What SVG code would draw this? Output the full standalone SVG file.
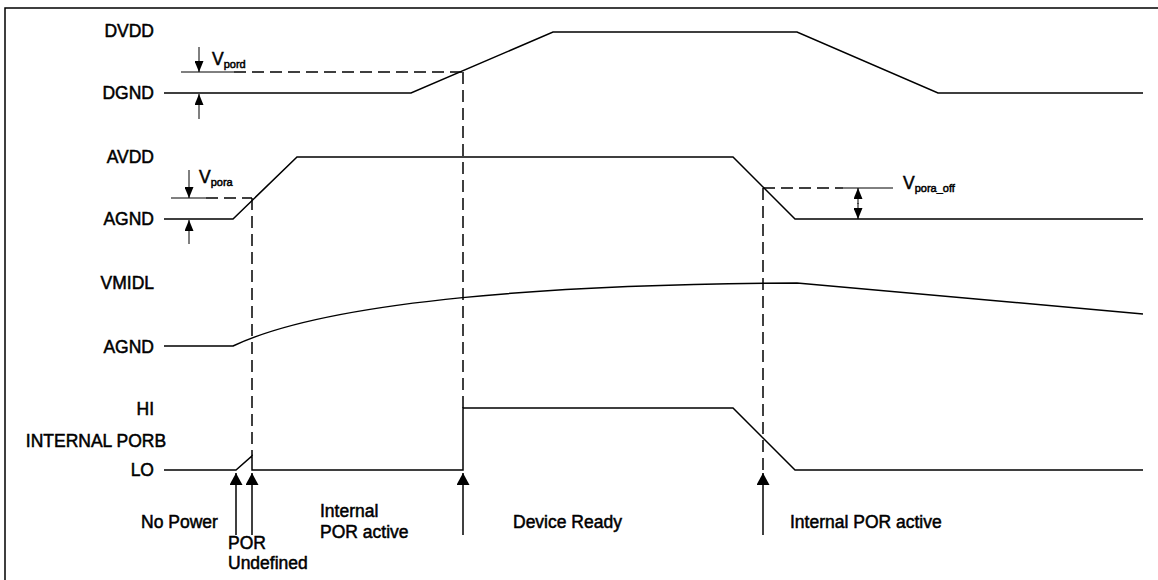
<svg xmlns="http://www.w3.org/2000/svg" width="1158" height="580" viewBox="0 0 1158 580">
<defs>
<style>
.t{font-family:"Liberation Sans",Arial,sans-serif;font-size:17.5px;fill:#000;stroke:#000;stroke-width:0.5}
.s{font-size:11px}
.w{fill:none;stroke:#000;stroke-width:1.5}
.d{fill:none;stroke:#000;stroke-width:1.5;stroke-dasharray:12 6}
.th{fill:none;stroke:#000;stroke-width:1}
</style>
<marker id="ah" viewBox="0 0 12 13" refX="12" refY="6.5" markerWidth="12" markerHeight="13" markerUnits="userSpaceOnUse" orient="auto">
<path d="M0,0 L12,6.5 L0,13 Z" fill="#000"/>
</marker>
<marker id="as" viewBox="0 0 11 9" refX="11" refY="4.5" markerWidth="11" markerHeight="9" markerUnits="userSpaceOnUse" orient="auto">
<path d="M0,0 L11,4.5 L0,9 Z" fill="#000"/>
</marker>
</defs>
<rect width="1158" height="580" fill="#fff"/>
<path class="w" d="M5,580 L5,8 L1158,8"/>

<g id="dvdd">
<text class="t" x="154" y="37" text-anchor="end">DVDD</text>
<text class="t" x="154" y="99" text-anchor="end">DGND</text>
<path class="w" d="M164,93 L411,93 L553,32 L797,32 L938,93 L1143,93"/>
<text class="t" x="212" y="65">V<tspan class="s" dy="3">pord</tspan></text>
</g>

<g id="avdd">
<text class="t" x="154" y="163" text-anchor="end">AVDD</text>
<text class="t" x="154" y="225" text-anchor="end">AGND</text>
<path class="w" d="M164,219 L233,219 L297,157 L733,157 L795,219 L1143,219"/>
<text class="t" x="199" y="183">V<tspan class="s" dy="3">pora</tspan></text>
<text class="t" x="903" y="189">V<tspan class="s" dy="3">pora_off</tspan></text>
</g>

<g id="vmidl">
<text class="t" x="154" y="289" text-anchor="end">VMIDL</text>
<text class="t" x="154" y="353" text-anchor="end">AGND</text>
<path class="w" d="M164,346 L233,346 C330,300 560,284 797,283 L1143,314"/>
</g>

<g id="porb">
<text class="t" x="154" y="415" text-anchor="end">HI</text>
<text class="t" x="96" y="447" text-anchor="middle">INTERNAL PORB</text>
<text class="t" x="154" y="476" text-anchor="end">LO</text>
<path class="w" d="M164,470 L236,470 L252,456 L252,470 L463,470 L463,408 L733,408 L795,470 L1143,470"/>
</g>

<g id="phases">
<text class="t" x="141" y="528">No Power</text>
<text class="t" x="228" y="549">POR</text>
<text class="t" x="228" y="569">Undefined</text>
<text class="t" x="320" y="517">Internal</text>
<text class="t" x="320" y="538">POR active</text>
<text class="t" x="513" y="528">Device Ready</text>
<text class="t" x="790" y="528">Internal POR active</text>
</g>

<g id="connectors">
<path class="th" d="M181,72 L234,72"/>
<path class="d" d="M234,72 L463,72"/>
<path class="th" d="M171,198 L206,198"/>
<path class="d" d="M206,198 L252,198"/>
<path class="d" d="M763,188 L843,188"/>
<path class="th" d="M843,188 L893,188"/>
<path class="d" d="M463,72 L463,408"/>
<path class="d" d="M252,198 L252,456"/>
<path class="d" d="M763,188 L763,472"/>
<path class="th" d="M199,47 L199,72" marker-end="url(#as)"/>
<path class="th" d="M199,119 L199,94" marker-end="url(#as)"/>
<path class="th" d="M189,170 L189,198" marker-end="url(#as)"/>
<path class="th" d="M189,244 L189,220" marker-end="url(#as)"/>
<path class="th" d="M858,204 L858,188" marker-end="url(#as)"/>
<path class="th" d="M858,203 L858,219" marker-end="url(#as)"/>
<path class="w" d="M236,535 L236,473" marker-end="url(#ah)"/>
<path class="w" d="M252,535 L252,473" marker-end="url(#ah)"/>
<path class="w" d="M463,535 L463,473" marker-end="url(#ah)"/>
<path class="w" d="M763,535 L763,473" marker-end="url(#ah)"/>
</g>
</svg>
